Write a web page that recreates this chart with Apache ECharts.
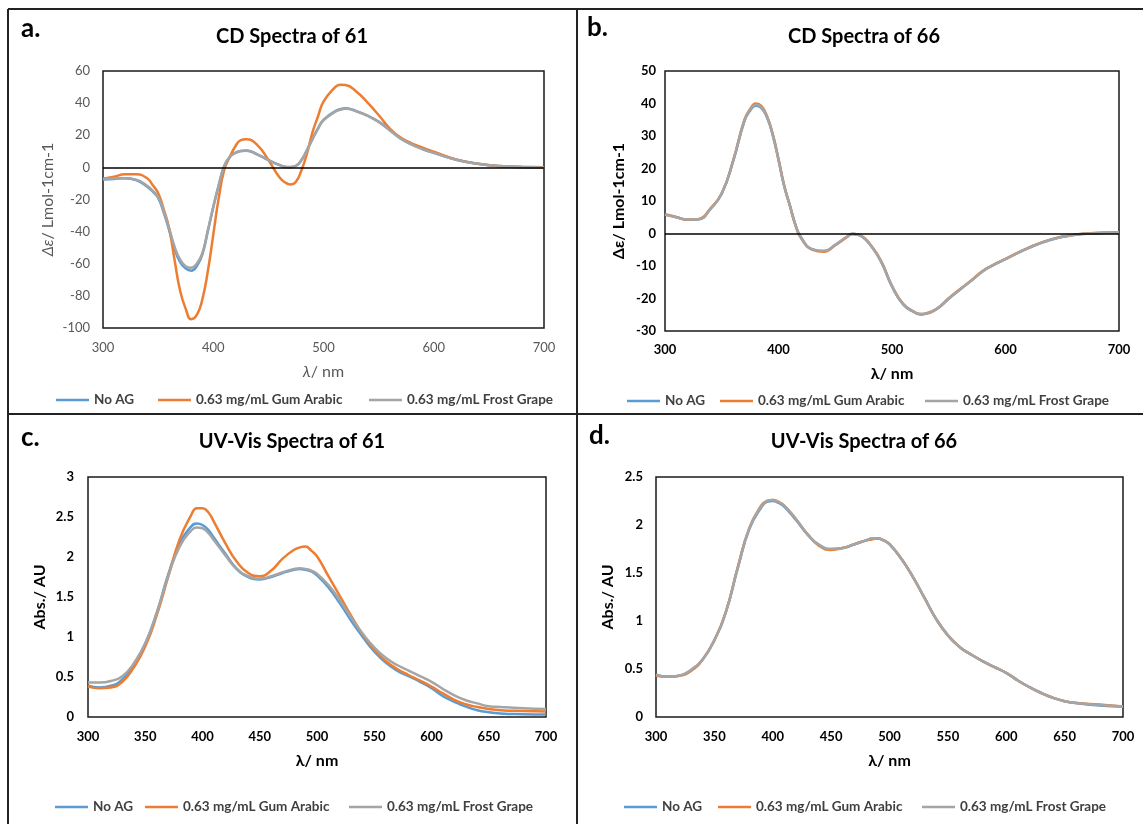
<!DOCTYPE html>
<html>
<head>
<meta charset="utf-8">
<script src="https://cdn.jsdelivr.net/npm/echarts/dist/echarts.min.js"></script>
<style>
  html, body { margin: 0; padding: 0; background: #fff; }
  #chart { width: 1143px; height: 824px; }
</style>
</head>
<body>
<div id="chart"></div>
<script>
// ---- Series names and colours ----
const seriesNames = ['No AG', '0.63 mg/mL Gum Arabic', '0.63 mg/mL Frost Grape'];
const seriesColors = ['#5B9BD5', '#ED7D31', '#A5A5A5'];

// ---- a. CD spectra of 61 (Δε vs wavelength, nm) ----
const waveA = [300,310,320,330,340,345,350,355,360,365,370,375,380,385,390,395,400,405,410,415,420,425,430,440,450,460,465,470,475,480,485,490,495,500,510,515,520,530,540,550,560,570,580,590,600,620,640,660,680,700];
const cd61NoAG = [-7.5,-7.2,-6.8,-7.9,-12,-15,-19,-28,-39,-51,-59,-63,-64.3,-61.5,-54.5,-40,-25,-11,1,6.5,9,10.2,10.5,8.1,4.6,1.5,0.4,0.2,1,4.6,10.8,17.7,24.3,29.5,34.7,36.2,36.8,35,32.2,28.5,23.3,18,14.3,11.4,9.1,4.9,2.3,0.7,0.1,-0.1];
const cd61Gum = [-7,-5.8,-4.3,-4.3,-6.8,-11,-16,-26,-38,-58,-77,-88,-94.5,-92,-82.5,-65,-42,-19,-1.5,6.5,13,17,17.5,13.9,4.6,-6.2,-9.3,-10.6,-8.9,-1.8,8.5,21.8,31.7,40.9,49.5,51.5,51.3,47.1,40.3,32.6,24.3,18.5,15,12.3,9.8,5,2.3,0.85,0.4,0.1];
const cd61Grape = [-7.3,-7,-6.7,-7.6,-11.5,-14.5,-18.5,-27,-38,-49.5,-57.5,-61.5,-62.5,-60,-53.5,-39.5,-24.5,-11,0.8,6.5,9,10.2,10.4,8,4.5,1.4,0.3,0.1,0.9,4.4,10.6,17.5,24,29.2,34.4,35.9,36.5,34.8,32,28.3,23.1,17.9,14.2,11.3,9,4.8,2.2,0.8,0.2,0];

// ---- b. CD spectra of 66 ----
const waveB = [300,310,320,330,340,350,360,370,375,380,385,390,395,400,405,410,415,420,430,440,450,460,465,470,475,480,490,500,510,520,525,530,540,550,560,570,580,590,600,620,640,660,680,700];
const cd66NoAG = [5.8,5.0,4.2,4.4,7.6,12.3,22.2,34.6,37.8,39.3,38.6,35.6,30.2,22.7,14.6,8.7,2.6,-1.3,-4.9,-5.4,-3.5,-1.1,-0.1,-0.4,-1.3,-3.1,-8.4,-16.3,-21.9,-24.3,-24.9,-24.6,-23.1,-20.1,-17.2,-14.5,-11.6,-9.6,-7.9,-4.5,-1.9,-0.5,0.1,0.3];
const cd66Gum = [5.9,5.1,4.2,4.5,7.7,12.4,22.4,35,38.3,40,39.2,36,30.5,22.9,14.8,8.6,2.5,-1.5,-5,-5.6,-3.6,-1.2,-0.2,-0.3,-1.2,-3,-8.2,-16.1,-21.7,-24.2,-24.8,-24.7,-23,-19.9,-17.1,-14.4,-11.5,-9.5,-7.8,-4.4,-1.8,-0.4,0.2,0.4];
const cd66Grape = [5.8,5.0,4.3,4.4,7.5,12.3,22.3,34.9,38,39.6,38.8,35.8,30.2,22.7,14.6,8.7,2.6,-1.3,-4.9,-5.4,-3.5,-1.1,-0.1,-0.4,-1.3,-3.1,-8.3,-16.2,-21.8,-24.2,-24.8,-24.6,-23,-20,-17.2,-14.5,-11.6,-9.6,-7.9,-4.5,-1.9,-0.5,0.1,0.3];

// ---- c. UV-Vis spectra of 61 (absorbance, AU) ----
const waveC = [300,310,320,330,340,350,360,370,380,390,395,400,405,410,420,430,440,450,460,470,480,485,490,495,500,510,520,530,540,550,560,570,580,590,600,610,620,630,640,650,660,680,700];
const uv61NoAG = [0.39,0.37,0.39,0.47,0.66,0.92,1.3,1.78,2.16,2.38,2.42,2.40,2.34,2.24,2.04,1.85,1.75,1.72,1.75,1.80,1.84,1.85,1.84,1.82,1.77,1.62,1.42,1.20,1.0,0.82,0.68,0.58,0.51,0.44,0.36,0.26,0.19,0.13,0.085,0.06,0.045,0.035,0.03];
const uv61Gum = [0.38,0.36,0.37,0.44,0.62,0.88,1.27,1.75,2.22,2.52,2.61,2.61,2.56,2.44,2.17,1.94,1.80,1.76,1.83,1.98,2.09,2.12,2.13,2.08,2.01,1.76,1.51,1.26,1.03,0.84,0.70,0.60,0.525,0.455,0.38,0.295,0.215,0.16,0.125,0.10,0.085,0.075,0.07];
const uv61Grape = [0.43,0.43,0.45,0.51,0.67,0.92,1.3,1.76,2.13,2.33,2.37,2.36,2.30,2.21,2.02,1.85,1.76,1.73,1.76,1.81,1.85,1.86,1.85,1.83,1.79,1.65,1.46,1.24,1.04,0.87,0.74,0.65,0.58,0.51,0.44,0.35,0.27,0.21,0.17,0.135,0.125,0.11,0.10];

// ---- d. UV-Vis spectra of 66 ----
const waveD = [300,310,320,330,340,350,360,370,380,390,395,400,405,410,420,430,440,450,460,470,480,485,490,495,500,510,520,530,540,550,560,570,580,590,600,610,620,630,640,650,660,680,700];
const uv66NoAG = [0.44,0.42,0.43,0.49,0.6,0.8,1.1,1.55,1.96,2.18,2.24,2.25,2.23,2.19,2.05,1.9,1.79,1.75,1.76,1.8,1.84,1.86,1.86,1.84,1.8,1.65,1.46,1.24,1.02,0.85,0.73,0.65,0.58,0.52,0.46,0.38,0.31,0.25,0.2,0.165,0.145,0.12,0.11];
const uv66Gum = [0.43,0.42,0.43,0.48,0.6,0.8,1.1,1.56,1.97,2.2,2.25,2.26,2.24,2.2,2.06,1.9,1.78,1.74,1.76,1.8,1.84,1.85,1.86,1.84,1.8,1.65,1.46,1.24,1.02,0.85,0.73,0.65,0.58,0.52,0.46,0.38,0.31,0.25,0.2,0.165,0.145,0.13,0.11];
const uv66Grape = [0.44,0.42,0.43,0.49,0.6,0.8,1.1,1.55,1.97,2.19,2.25,2.26,2.24,2.2,2.06,1.9,1.79,1.75,1.76,1.8,1.84,1.86,1.86,1.84,1.8,1.65,1.46,1.24,1.02,0.85,0.73,0.65,0.58,0.52,0.46,0.38,0.31,0.25,0.2,0.165,0.145,0.125,0.11];

// ---- Panel text ----
const panelTitles = ['CD Spectra of 61', 'CD Spectra of 66', 'UV-Vis Spectra of 61', 'UV-Vis Spectra of 66'];
const panelLetters = ['a.', 'b.', 'c.', 'd.'];
const yAxisTitles = ['{i|Δε}/ Lmol-1cm-1', 'Δε/ Lmol-1cm-1', 'Abs./ AU', 'Abs./ AU'];
const xAxisTitles = ['{i|λ}/ nm', 'λ/ nm', 'λ/ nm', 'λ/ nm'];

// ---- Layout of each panel ----
const FONT = 'Lato, "Open Sans", sans-serif';
const panels = [
  { wave: waveA, values: [cd61NoAG, cd61Gum, cd61Grape],
    grid: { left: 103, top: 71, width: 441, height: 257 },
    y: { min: -100, max: 60, interval: 20 }, xInterval: 100, zero: true, plain: true,
    yNameGap: 47, xNameGap: 36, yLabelMargin: 13, xLabelMargin: 13,
    legendTop: 392, legendLefts: [56, 158, 369],
    title: { x: 292, y: 37 }, letter: { x: 21, y: 29 } },
  { wave: waveB, values: [cd66NoAG, cd66Gum, cd66Grape],
    grid: { left: 665, top: 71, width: 454, height: 260 },
    y: { min: -30, max: 50, interval: 10 }, xInterval: 100, zero: true, plain: false,
    yNameGap: 38, xNameGap: 35, yLabelMargin: 9, xLabelMargin: 12,
    legendTop: 393, legendLefts: [627, 720, 925],
    title: { x: 864, y: 37 }, letter: { x: 587, y: 28 } },
  { wave: waveC, values: [uv61NoAG, uv61Gum, uv61Grape],
    grid: { left: 88, top: 477, width: 458, height: 240 },
    y: { min: 0, max: 3, interval: 0.5 }, xInterval: 50, zero: false, plain: false,
    yNameGap: 40, xNameGap: 36, yLabelMargin: 14, xLabelMargin: 13,
    legendTop: 799, legendLefts: [55, 145, 349],
    title: { x: 292, y: 442 }, letter: { x: 21, y: 438 } },
  { wave: waveD, values: [uv66NoAG, uv66Gum, uv66Grape],
    grid: { left: 656, top: 477, width: 467, height: 240 },
    y: { min: 0, max: 2.5, interval: 0.5 }, xInterval: 50, zero: false, plain: false,
    yNameGap: 40, xNameGap: 36, yLabelMargin: 13, xLabelMargin: 13,
    legendTop: 799, legendLefts: [624, 718, 922],
    title: { x: 864, y: 442 }, letter: { x: 589, y: 436 } }
];

const grids = [], xAxes = [], yAxes = [], series = [], legends = [];

panels.forEach((p, k) => {
  const tickColor = p.plain ? '#595959' : '#000';
  const tickWeight = p.plain ? 'normal' : 'bold';
  const nameStyle = {
    color: tickColor, fontSize: 16, fontFamily: FONT, fontWeight: tickWeight,
    rich: { i: { fontStyle: 'italic', color: tickColor, fontSize: 16, fontFamily: FONT, fontWeight: tickWeight } }
  };

  grids.push(Object.assign({ show: true, borderColor: '#1a1a1a', borderWidth: 1.5, containLabel: false }, p.grid));

  xAxes.push({
    type: 'value', gridIndex: k, min: 300, max: 700, interval: p.xInterval,
    axisLine: { show: false }, axisTick: { show: false }, splitLine: { show: false },
    axisLabel: { color: tickColor, fontSize: 13, fontFamily: FONT, fontWeight: tickWeight, margin: p.xLabelMargin },
    name: xAxisTitles[k], nameLocation: 'middle', nameGap: p.xNameGap, nameTextStyle: nameStyle
  });

  yAxes.push({
    type: 'value', gridIndex: k, min: p.y.min, max: p.y.max, interval: p.y.interval,
    axisLine: { show: false }, axisTick: { show: false }, splitLine: { show: false },
    axisLabel: { color: tickColor, fontSize: 13, fontFamily: FONT, fontWeight: tickWeight, margin: p.yLabelMargin },
    name: yAxisTitles[k], nameLocation: 'middle', nameGap: p.yNameGap, nameRotate: 90, nameTextStyle: nameStyle
  });

  p.values.forEach((vals, j) => {
    const s = {
      type: 'line', name: seriesNames[j], xAxisIndex: k, yAxisIndex: k,
      data: p.wave.map((w, i) => [w, vals[i]]),
      symbol: 'none', showSymbol: false, smooth: 0.5,
      lineStyle: { width: 2.5, color: seriesColors[j] },
      itemStyle: { color: seriesColors[j] },
      z: 2 + j, animation: false
    };
    if (p.zero && j === 0) {
      // horizontal axis at Δε = 0
      s.markLine = {
        silent: true, symbol: ['none', 'none'], label: { show: false },
        lineStyle: { color: '#000', width: 1.5, type: 'solid' },
        data: [{ yAxis: 0 }], animation: false
      };
    }
    series.push(s);
  });

  seriesNames.forEach((name, j) => {
    legends.push({
      data: [name], left: p.legendLefts[j], top: p.legendTop, padding: 0,
      icon: 'rect', itemWidth: 33, itemHeight: 2.5, selectedMode: false,
      textStyle: { color: '#404040', fontSize: 13.5, fontFamily: FONT, fontWeight: 'bold', lineHeight: 16 }
    });
  });
});

// panel frame, titles and letters
const graphics = [
  { type: 'line', shape: { x1: 8, y1: 9, x2: 1143, y2: 9 }, style: { stroke: '#222', lineWidth: 2 } },
  { type: 'line', shape: { x1: 8, y1: 9, x2: 8, y2: 824 }, style: { stroke: '#222', lineWidth: 2 } },
  { type: 'line', shape: { x1: 577, y1: 9, x2: 577, y2: 824 }, style: { stroke: '#222', lineWidth: 2 } },
  { type: 'line', shape: { x1: 8, y1: 414, x2: 1143, y2: 414 }, style: { stroke: '#222', lineWidth: 2 } }
];
panels.forEach((p, k) => {
  graphics.push({
    type: 'text', x: p.title.x, y: p.title.y,
    style: { text: panelTitles[k], fill: '#000', fontSize: 20, fontWeight: 'bold', fontFamily: FONT, align: 'center', verticalAlign: 'middle' }
  });
  graphics.push({
    type: 'text', x: p.letter.x, y: p.letter.y,
    style: { text: panelLetters[k], fill: '#000', fontSize: 26, fontWeight: 'bold', fontFamily: FONT, align: 'left', verticalAlign: 'middle' }
  });
});

const chart = echarts.init(document.getElementById('chart'), null, { renderer: 'canvas' });
chart.setOption({
  backgroundColor: '#fff',
  animation: false,
  grid: grids,
  xAxis: xAxes,
  yAxis: yAxes,
  legend: legends,
  series: series,
  graphic: graphics
});
</script>
</body>
</html>
